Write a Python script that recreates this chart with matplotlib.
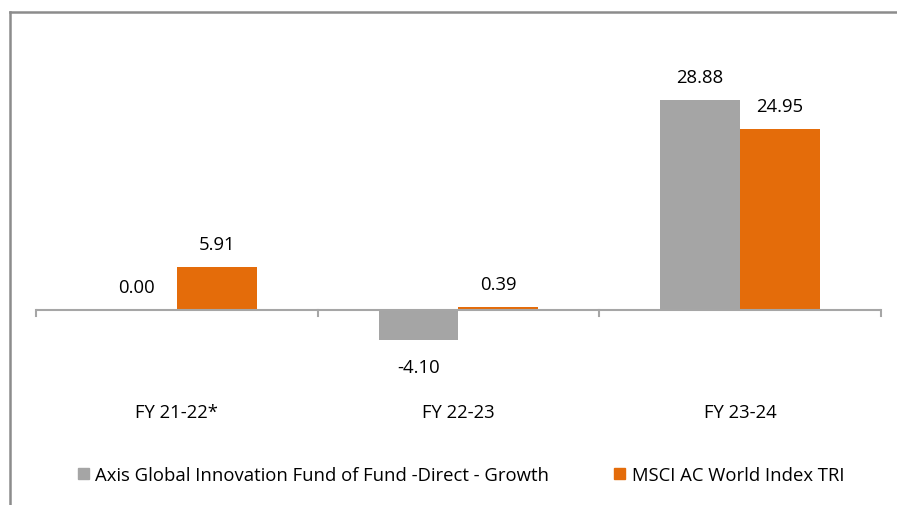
import numpy as np
import matplotlib
matplotlib.use('Agg')
import matplotlib.pyplot as plt
from matplotlib.lines import Line2D
from matplotlib.patches import Patch
import matplotlib.transforms as mtransforms

categories = ['FY 21-22*', 'FY 22-23', 'FY 23-24']
fund = [0.00, -4.10, 28.88]
index = [5.91, 0.39, 24.95]
series_names = ['Axis Global Innovation Fund of Fund -Direct - Growth',
                'MSCI AC World Index TRI']

plt.rcParams['font.family'] = ['Open Sans', 'DejaVu Sans']
grey = '#a5a5a5'
orange = '#e46c0a'
W, H = 897, 506

fig = plt.figure(figsize=(W / 100, H / 100), dpi=100)
# plot area in pixels: x 36..881, y 30..400
ax = fig.add_axes([36 / W, 1 - 400 / H, (881 - 36) / W, 370 / H])

x = np.arange(len(categories))
w = 0.284
ax.bar(x - w / 2, fund, w, color=grey)
ax.bar(x + w / 2, index, w, color=orange)

ax.set_xlim(-0.5, len(categories) - 0.5)
ax.set_ylim(-12.24, 38.65)

for s in ax.spines.values():
    s.set_visible(False)
ax.axhline(0, color='#a6a6a6', lw=1.5, zorder=3)
ax.set_yticks([])
ax.set_xticks([])
# category boundary ticks
for b in np.arange(-0.5, len(categories), 1.0):
    ax.plot([b, b], [0, -0.85], color='#a6a6a6', lw=1.5, clip_on=False, zorder=3)

fs = 13.3
for i in range(len(categories)):
    for val, off in ((fund[i], -w / 2), (index[i], w / 2)):
        if val < 0:
            ax.text(x[i] + off, val - 2.5, '%.2f' % val, ha='center', va='top', fontsize=fs)
        else:
            ax.text(x[i] + off, val + 1.9, '%.2f' % val, ha='center', va='bottom', fontsize=fs)

trans = mtransforms.blended_transform_factory(ax.transData, fig.transFigure)
for i, c in enumerate(categories):
    ax.text(x[i], 1 - 413 / H, c, ha='center', va='center', fontsize=fs, transform=trans)

handles = [Patch(color=grey), Patch(color=orange)]
fig.legend(handles, series_names, loc='center', bbox_to_anchor=(0.514, 1 - 476 / H),
           ncol=2, frameon=False, fontsize=fs, handlelength=0.6, handleheight=0.6,
           handletextpad=0.37, columnspacing=3.5)

# chart border (only top and left visible)
fig.add_artist(Line2D([10 / W, 1], [1 - 13 / H, 1 - 13 / H], color='#8c8c8c', lw=1.8,
                      transform=fig.transFigure))
fig.add_artist(Line2D([10 / W, 10 / W], [1 - 13 / H, 0], color='#8c8c8c', lw=1.8,
                      transform=fig.transFigure))

fig.savefig('out.png', dpi=100)
